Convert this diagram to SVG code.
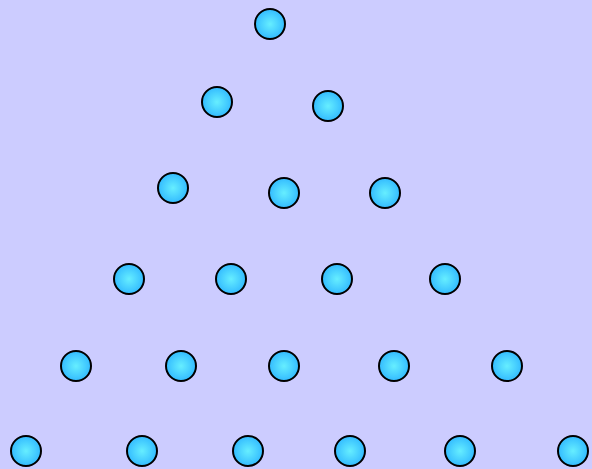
<svg xmlns="http://www.w3.org/2000/svg" width="592" height="469" viewBox="0 0 592 469">
<defs>
<radialGradient id="g" cx="50%" cy="50%" r="50%">
<stop offset="0" stop-color="#66eeff"/>
<stop offset="1" stop-color="#33bbff"/>
</radialGradient>
<style>
.n{fill:url(#g);stroke:#000;stroke-width:2}
</style>
</defs>
<rect width="592" height="469" fill="#ccccff"/>
<g id="connectors"/>
<g id="n1"><circle class="n" cx="270" cy="24" r="15"/></g>
<g id="n2"><circle class="n" cx="217" cy="102" r="15"/></g>
<g id="n3"><circle class="n" cx="328" cy="106" r="15"/></g>
<g id="n4"><circle class="n" cx="173" cy="188" r="15"/></g>
<g id="n5"><circle class="n" cx="284" cy="193" r="15"/></g>
<g id="n6"><circle class="n" cx="385" cy="193" r="15"/></g>
<g id="n7"><circle class="n" cx="129" cy="279" r="15"/></g>
<g id="n8"><circle class="n" cx="231" cy="279" r="15"/></g>
<g id="n9"><circle class="n" cx="337" cy="279" r="15"/></g>
<g id="n10"><circle class="n" cx="445" cy="279" r="15"/></g>
<g id="n11"><circle class="n" cx="76" cy="366" r="15"/></g>
<g id="n12"><circle class="n" cx="181" cy="366" r="15"/></g>
<g id="n13"><circle class="n" cx="284" cy="366" r="15"/></g>
<g id="n14"><circle class="n" cx="394" cy="366" r="15"/></g>
<g id="n15"><circle class="n" cx="507" cy="366" r="15"/></g>
<g id="n16"><circle class="n" cx="26" cy="451" r="15"/></g>
<g id="n17"><circle class="n" cx="142" cy="451" r="15"/></g>
<g id="n18"><circle class="n" cx="248" cy="451" r="15"/></g>
<g id="n19"><circle class="n" cx="350" cy="451" r="15"/></g>
<g id="n20"><circle class="n" cx="460" cy="451" r="15"/></g>
<g id="n21"><circle class="n" cx="573" cy="451" r="15"/></g>
</svg>
